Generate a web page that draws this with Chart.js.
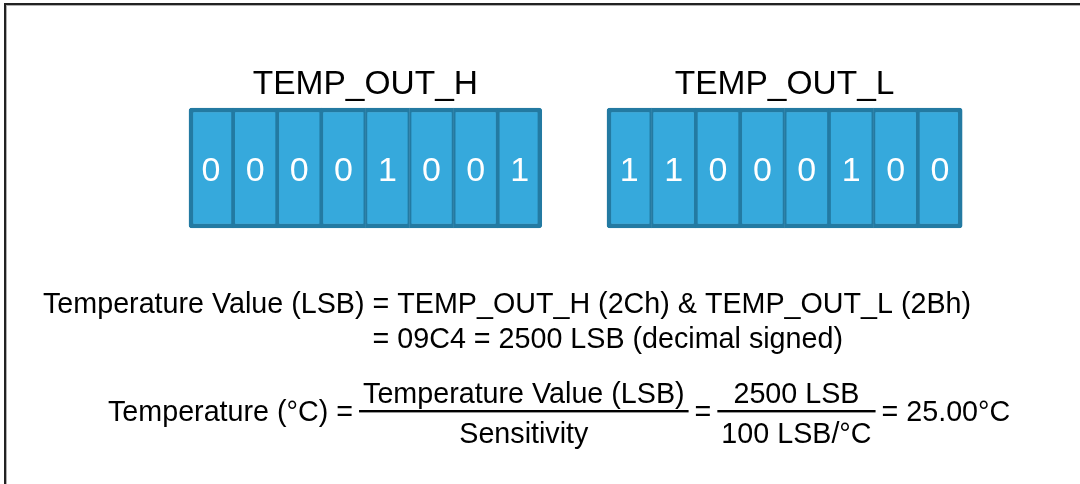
<!DOCTYPE html>
<html><head><meta charset="utf-8">
<script src="https://cdn.jsdelivr.net/npm/chart.js@4/dist/chart.umd.min.js"></script>
<style>html,body{margin:0;padding:0;background:#fff;}#wrap{width:1080px;height:484px;position:relative;overflow:hidden;}</style>
</head><body><div id="wrap"><canvas id="c" width="1080" height="484"></canvas></div>
<script>
// ---- data ----
const registers = ['TEMP_OUT_H', 'TEMP_OUT_L'];
const registerAddr = ['2Ch', '2Bh'];
const bitsH = [0, 0, 0, 0, 1, 0, 0, 1];
const bitsL = [1, 1, 0, 0, 0, 1, 0, 0];
const rawHex = '09C4';
const rawLSB = '2500';
const sensitivity = '100';
const tempValue = '25.00';

// ---- layout / style ----
const FONT = '"Liberation Sans", Arial, Helvetica, sans-serif';
const GROUP_LEFT = [189, 607];
const CELL_W = [44.1, 44.4];
const CELL_TOP = 108, CELL_BOTTOM = 228;
const FILL = '#36a9dc', EDGE = '#237aa2';
const allBits = [bitsH, bitsL];

const datasets = allBits.map((bits, g) => ({
  label: registers[g],
  data: bits.map((b, i) => ({ x: GROUP_LEFT[g] + (i + 0.5) * CELL_W[g], y: [CELL_TOP, CELL_BOTTOM], bit: b })),
  backgroundColor: FILL,
  borderColor: EDGE,
  barThickness: CELL_W[g],
  grouped: false,
  borderSkipped: false,
  borderWidth: (ctx) => {
    const i = ctx.dataIndex, n = bits.length;
    return { top: 4.5, bottom: 4.5, left: i === 0 ? 4.5 : 2.2, right: i === n - 1 ? 4.5 : 2.2 };
  },
  borderRadius: (ctx) => {
    const i = ctx.dataIndex, n = bits.length;
    if (i === 0) return { topLeft: 3, bottomLeft: 3, topRight: 0, bottomRight: 0 };
    if (i === n - 1) return { topLeft: 0, bottomLeft: 0, topRight: 3, bottomRight: 3 };
    return 0;
  }
}));

const textPlugin = {
  id: 'texts',
  afterDatasetsDraw(chart) {
    const ctx = chart.ctx;
    ctx.save();
    // digits and register titles
    chart.data.datasets.forEach((ds, g) => {
      const meta = chart.getDatasetMeta(g);
      ctx.fillStyle = '#ffffff';
      ctx.font = '34px ' + FONT;
      ctx.textAlign = 'center';
      ctx.textBaseline = 'alphabetic';
      meta.data.forEach((el, i) => {
        const cy = (el.y + el.base) / 2;
        ctx.fillText(String(ds.data[i].bit), el.x, cy + 13);
      });
      const first = meta.data[0], last = meta.data[meta.data.length - 1];
      ctx.fillStyle = '#000';
      ctx.font = '33.5px ' + FONT;
      ctx.fillText(ds.label, (first.x + last.x) / 2, Math.min(first.y, first.base) - 14);
    });

    // formula lines
    ctx.fillStyle = '#000';
    ctx.font = '28.7px ' + FONT;
    ctx.textAlign = 'left';
    const x1 = 43;
    const lhs = 'Temperature Value (LSB) ';
    ctx.fillText(lhs + '= ' + registers[0] + ' (' + registerAddr[0] + ') & ' + registers[1] + ' (' + registerAddr[1] + ')', x1, 313);
    const eqX = x1 + ctx.measureText(lhs).width;
    ctx.fillText('= ' + rawHex + ' = ' + rawLSB + ' LSB (decimal signed)', eqX, 348);

    // line 3 with fractions
    ctx.font = '28.7px ' + FONT;
    let x = 108;
    const midY = 411;
    const s1 = 'Temperature (\u00b0C) =';
    ctx.fillText(s1, x, 421);
    x += ctx.measureText(s1).width + 6;
    function fraction(num, den) {
      const wn = ctx.measureText(num).width, wd = ctx.measureText(den).width;
      const w = Math.max(wn, wd) + 8;
      ctx.textAlign = 'center';
      ctx.fillText(num, x + w / 2, 403);
      ctx.fillText(den, x + w / 2, 443);
      ctx.textAlign = 'left';
      ctx.fillRect(x, midY - 1, w, 2.4);
      x += w;
    }
    fraction('Temperature Value (LSB)', 'Sensitivity');
    x += 6;
    ctx.fillText('=', x, 421);
    x += ctx.measureText('=').width + 6;
    fraction(rawLSB + ' LSB', sensitivity + ' LSB/\u00b0C');
    x += 6;
    ctx.fillText('= ' + tempValue + '\u00b0C', x, 421);

    // frame
    ctx.fillStyle = '#222';
    ctx.fillRect(4, 3, 1076, 2);
    ctx.fillRect(4, 3, 2, 481);
    ctx.fillStyle = '#b0b0b0';
    ctx.fillRect(6, 5, 1074, 1);
    ctx.fillRect(6, 5, 1, 479);
    ctx.restore();
  }
};

new Chart(document.getElementById('c'), {
  type: 'bar',
  data: { datasets },
  options: {
    responsive: false,
    animation: false,
    events: [],
    layout: { padding: 0 },
    plugins: { legend: { display: false }, tooltip: { enabled: false }, title: { display: false } },
    scales: {
      x: { type: 'linear', min: 0, max: 1080, offset: false, display: false },
      y: { type: 'linear', min: 0, max: 484, reverse: true, display: false }
    }
  },
  plugins: [textPlugin]
});
</script>
</body></html>
